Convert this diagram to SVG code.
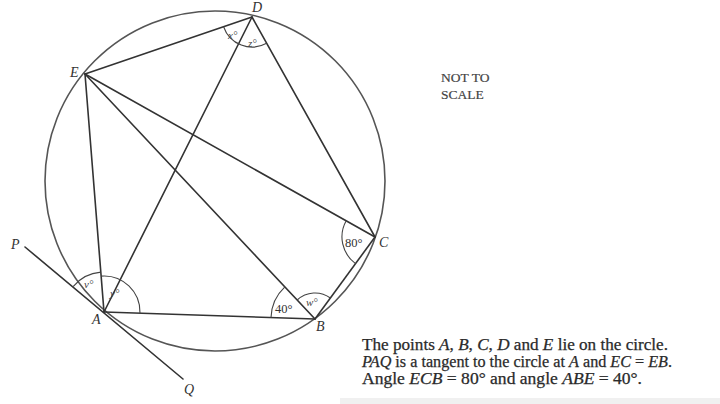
<svg xmlns="http://www.w3.org/2000/svg" width="720" height="404" viewBox="0 0 720 404">
<style>
.ln{stroke:#333;stroke-width:1.6;fill:none;stroke-linecap:round}
.arc{stroke:#444;stroke-width:1.1;fill:none}
.pt{font-family:"Liberation Serif",serif;font-style:italic;font-size:14px;fill:#333}
.ang{font-family:"Liberation Serif",serif;font-style:italic;font-size:11px;fill:#444}
.deg{font-family:"Liberation Serif",serif;font-size:12.5px;fill:#333}
.note{font-family:"Liberation Serif",serif;font-size:16px;fill:#2a2a2a;stroke:#2a2a2a;stroke-width:0.25}
.ns{font-family:"Liberation Serif",serif;font-size:13.5px;fill:#444;stroke:#444;stroke-width:0.2}
</style>
<rect width="720" height="404" fill="#fff"/>
<rect x="340" y="398" width="380" height="6" fill="#f0f0f0"/>
<g id="circle"><circle cx="215" cy="181" r="170" stroke="#555" stroke-width="1.6" fill="none"/></g>
<g id="connectors">
<line class="ln" x1="25" y1="247" x2="183" y2="379"/>
<line class="ln" x1="252" y1="17" x2="85" y2="74"/>
<line class="ln" x1="252" y1="17" x2="375" y2="237"/>
<line class="ln" x1="252" y1="17" x2="104" y2="312"/>
<line class="ln" x1="85" y1="74" x2="104" y2="312"/>
<line class="ln" x1="85" y1="74" x2="315" y2="319"/>
<line class="ln" x1="85" y1="74" x2="375" y2="237"/>
<line class="ln" x1="104" y1="312" x2="315" y2="319"/>
<line class="ln" x1="315" y1="319" x2="375" y2="237"/>
</g>
<g id="angles">
<path class="arc" d="M73.1 286.6 A40 40 0 0 1 100.8 272.1"/>
<path class="arc" d="M101.1 276.1 A36 36 0 0 1 140 313.2"/>
<path class="arc" d="M266.6 43.2 A30 30 0 0 1 223.6 26.7"/>
<path class="arc" d="M271 317.5 A44 44 0 0 1 284.9 286.9"/>
<path class="arc" d="M297.2 300 A26 26 0 0 1 330.4 298"/>
<path class="arc" d="M355.5 263.6 A33 33 0 0 1 346.2 220.8"/>
<text class="ang" x="84" y="288">v°</text>
<text class="ang" x="110" y="297">y°</text>
<text class="ang" x="228" y="39">x°</text>
<text class="ang" x="248" y="47">z°</text>
<text class="ang" x="306" y="306">w°</text>
<text class="deg" x="275" y="313">40°</text>
<text class="deg" x="345" y="247">80°</text>
</g>
<g id="A"><text class="pt" x="92" y="324">A</text></g>
<g id="B"><text class="pt" x="316" y="331">B</text></g>
<g id="C"><text class="pt" x="379" y="247">C</text></g>
<g id="D"><text class="pt" x="252" y="12">D</text></g>
<g id="E"><text class="pt" x="70" y="77">E</text></g>
<g id="P"><text class="pt" x="11" y="249">P</text></g>
<g id="Q"><text class="pt" x="184" y="394">Q</text></g>
<g id="notscale">
<text class="ns" x="441" y="82">NOT TO</text>
<text class="ns" x="441" y="99">SCALE</text>
</g>
<g id="caption">
<text class="note" x="362" y="350" textLength="306" lengthAdjust="spacingAndGlyphs">The points <tspan font-style="italic">A</tspan>, <tspan font-style="italic">B</tspan>, <tspan font-style="italic">C</tspan>, <tspan font-style="italic">D</tspan> and <tspan font-style="italic">E</tspan> lie on the circle.</text>
<text class="note" x="362" y="367" textLength="310" lengthAdjust="spacingAndGlyphs"><tspan font-style="italic">PAQ</tspan> is a tangent to the circle at <tspan font-style="italic">A</tspan> and <tspan font-style="italic">EC</tspan> = <tspan font-style="italic">EB</tspan>.</text>
<text class="note" x="362" y="384" textLength="280" lengthAdjust="spacingAndGlyphs">Angle <tspan font-style="italic">ECB</tspan> = 80° and angle <tspan font-style="italic">ABE</tspan> = 40°.</text>
</g>
</svg>
